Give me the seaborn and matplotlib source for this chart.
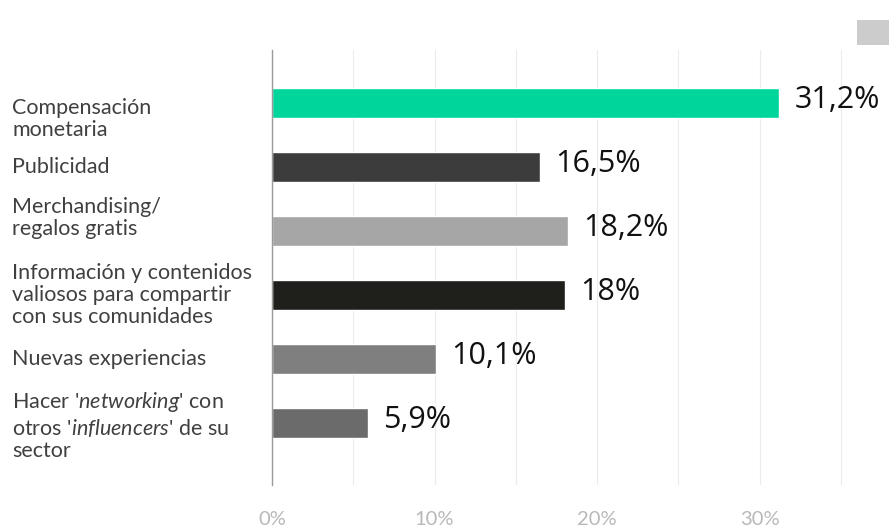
import matplotlib
matplotlib.use("Agg")
import matplotlib.pyplot as plt
import seaborn as sns
import pandas as pd
from matplotlib.ticker import MultipleLocator, FixedLocator, FuncFormatter
from matplotlib.patches import Rectangle

categories = [
    "Compensación\nmonetaria",
    "Publicidad",
    "Merchandising/\nregalos gratis",
    "Información y contenidos\nvaliosos para compartir\ncon sus comunidades",
    "Nuevas experiencias",
    "Hacer '$\\it{networking}$' con\notros '$\\it{influencers}$' de su\nsector",
]
values = [31.2, 16.5, 18.2, 18.0, 10.1, 5.9]
value_labels = ["31,2%", "16,5%", "18,2%", "18%", "10,1%", "5,9%"]
colors = ["#00d59b", "#3c3c3c", "#a6a6a6", "#1f1f1c", "#7f7f7f", "#6b6b6b"]
x_ticks = [0, 10, 20, 30]

# vertical nudge of each category label (layout only, in category units)
label_nudge = [0.25, 0.0, -0.2, 0.0, 0.0, 0.04]

sns.set_theme(style="white")
plt.rcParams["font.family"] = ["Lato", "DejaVu Sans"]
plt.rcParams["mathtext.fontset"] = "custom"
plt.rcParams["mathtext.rm"] = "Lato"
plt.rcParams["mathtext.it"] = "Lato:italic"

df = pd.DataFrame({"cat": categories, "val": values})

fig = plt.figure(figsize=(8.89, 5.30), dpi=100)
ax = fig.add_axes([272 / 889, 45 / 530, 598 / 889, 435 / 530])

sns.barplot(data=df, x="val", y="cat", hue="cat", palette=colors,
            legend=False, width=0.48, orient="h", ax=ax, saturation=1)

ax.set_xlim(0, 36.8)
ax.set_ylim(5.97, -0.83)

ax.xaxis.set_major_locator(FixedLocator(x_ticks))
ax.xaxis.set_minor_locator(MultipleLocator(5))
ax.xaxis.set_major_formatter(FuncFormatter(lambda v, p: f"{int(v)}%"))
ax.grid(True, axis="x", which="both", color="#ececec", linewidth=0.8)
ax.set_axisbelow(True)

for s in ["top", "right", "bottom"]:
    ax.spines[s].set_visible(False)
ax.spines["left"].set_color("#9a9a9a")
ax.spines["left"].set_linewidth(1.0)

ax.tick_params(axis="x", which="both", length=0, pad=19, labelsize=14.5,
               labelcolor="#b8b8b8")
ax.tick_params(axis="y", length=5, width=1, color="#888888")
ax.set_yticklabels([])

for i, (cat, dy) in enumerate(zip(categories, label_nudge)):
    ax.text(-260 / 598, i + dy, cat, transform=ax.get_yaxis_transform(),
            ha="left", va="center", fontsize=15.5, color="#404040",
            linespacing=1.12)

ax.set_xlabel("")
ax.set_ylabel("")

for i, (v, lab) in enumerate(zip(values, value_labels)):
    ax.annotate(lab, xy=(v, i), xytext=(11, 2), textcoords="offset points",
                ha="left", va="center", fontsize=22, color="#111111",
                family=["Open Sans", "DejaVu Sans"])

fig.patches.append(Rectangle((857 / 889, 1 - 45 / 530), 32 / 889, 25 / 530,
                             transform=fig.transFigure, facecolor="#cccccc",
                             edgecolor="none"))

fig.savefig("out.png", dpi=100)
